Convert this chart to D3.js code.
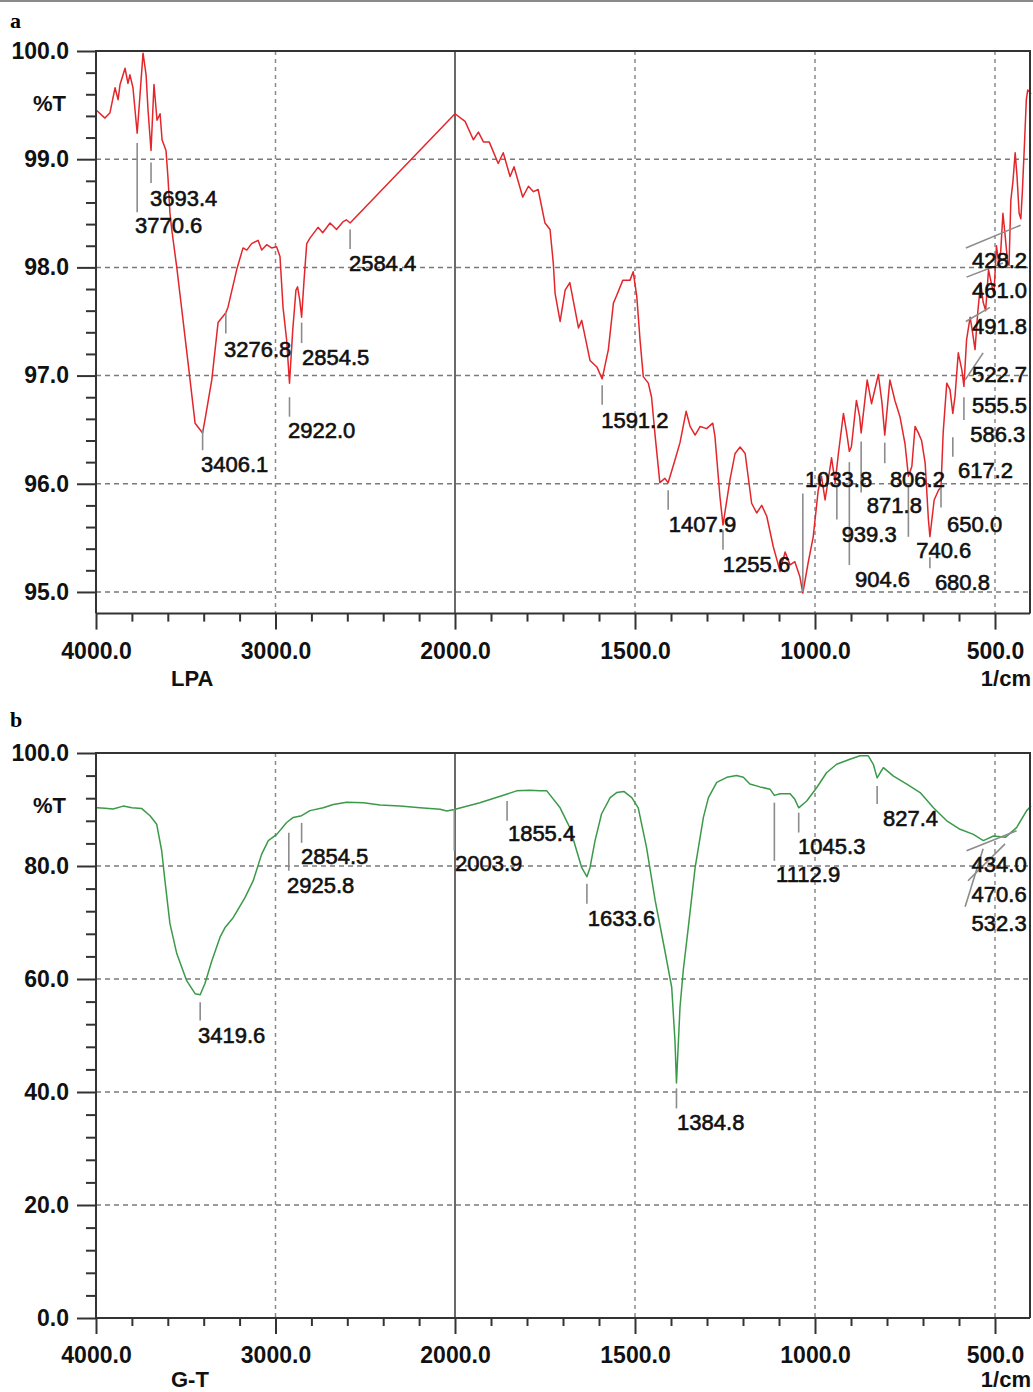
<!DOCTYPE html>
<html>
<head>
<meta charset="utf-8">
<script src="https://cdn.jsdelivr.net/npm/d3@7"></script>
<style>
  body { margin: 0; background: #fff; }
  svg { display: block; }
</style>
</head>
<body>
<script>
// LPA spectrum: [wavenumber (1/cm), %T]
const lpaSpectrum = [
  [4000, 99.45], [3996, 99.45], [3950, 99.38], [3922, 99.43], [3894, 99.66], [3877, 99.55], [3866, 99.69],
  [3838, 99.84], [3822, 99.70], [3811, 99.78], [3794, 99.66], [3770.6, 99.24], [3755, 99.59], [3738, 99.98],
  [3721, 99.78], [3710, 99.45], [3693.4, 99.08], [3677, 99.69], [3660, 99.36], [3643, 99.42], [3632, 99.18],
  [3610, 99.08], [3599, 98.83], [3588, 98.50], [3578, 98.35], [3550, 98.0], [3515, 97.51], [3476, 96.96],
  [3448, 96.56], [3406.1, 96.47], [3393, 96.59], [3355, 96.96], [3320, 97.49], [3276.8, 97.58], [3265, 97.63],
  [3216, 97.98], [3181, 98.18], [3160, 98.16], [3133, 98.22], [3097, 98.25], [3077, 98.16], [3049, 98.21],
  [3022, 98.18], [2994, 98.19], [2975, 98.10], [2958, 97.63], [2938, 97.33], [2922, 96.93], [2904, 97.42],
  [2886, 97.79], [2877, 97.82], [2865, 97.70], [2854.5, 97.54], [2841, 97.88], [2826, 98.22], [2808, 98.27],
  [2763, 98.37], [2737, 98.32], [2696, 98.41], [2660, 98.35], [2625, 98.42], [2605, 98.44], [2584.4, 98.41],
  [2000, 99.42], [1972, 99.35], [1949, 99.18], [1935, 99.25], [1921, 99.16], [1905, 99.16], [1880, 98.96],
  [1866, 99.06], [1847, 98.84], [1836, 98.93], [1812, 98.65], [1796, 98.75], [1782, 98.70], [1769, 98.72],
  [1750, 98.41], [1736, 98.35], [1727, 98.04], [1722, 97.76], [1708, 97.50], [1694, 97.79], [1681, 97.86],
  [1657, 97.44], [1648, 97.51], [1625, 97.14], [1606, 97.08], [1591.2, 96.97], [1574, 97.24], [1560, 97.67],
  [1551, 97.74], [1534, 97.88], [1514, 97.88], [1505, 97.96], [1495, 97.73], [1486, 97.33], [1477, 96.99],
  [1463, 96.93], [1454, 96.80], [1444, 96.44], [1431, 96.01], [1417, 96.05], [1407.9, 96.01], [1389, 96.22],
  [1375, 96.38], [1358, 96.67], [1347, 96.53], [1333, 96.45], [1319, 96.53], [1301, 96.51], [1284, 96.56],
  [1278, 96.44], [1264, 95.88], [1255.6, 95.62], [1236, 96.04], [1222, 96.28], [1208, 96.34], [1194, 96.28],
  [1176, 95.82], [1162, 95.73], [1148, 95.80], [1134, 95.70], [1116, 95.42], [1097, 95.19], [1083, 95.37],
  [1069, 95.25], [1056, 95.28], [1042, 95.14], [1033.8, 94.99], [1019, 95.27], [1005, 95.51], [991, 95.94],
  [982, 96.07], [972, 95.85], [954, 96.24], [944, 96.01], [935, 96.28], [921, 96.65], [912, 96.47],
  [904.6, 96.30], [899, 96.34], [885, 96.77], [876, 96.62], [871.8, 96.47], [855, 96.96], [843, 96.74],
  [824, 97.01], [814, 96.75], [806.2, 96.45], [792, 96.96], [778, 96.77], [764, 96.62], [750, 96.37],
  [740.6, 96.07], [731, 96.16], [722, 96.53], [713, 96.47], [704, 96.40], [694, 96.19], [685, 95.67],
  [680.8, 95.51], [669, 95.85], [657, 95.94], [650, 95.97], [644, 96.47], [634, 96.93], [625, 96.87],
  [617.2, 96.65], [611, 96.81], [602, 97.21], [592, 97.05], [586.3, 96.90], [579, 97.33], [569, 97.54],
  [562, 97.39], [555.5, 97.24], [548, 97.58], [540, 97.86], [533, 97.68], [526, 97.60], [518, 97.98],
  [510, 97.85], [503, 97.75], [496, 98.20], [490, 98.05], [484, 98.15], [478, 98.50], [472, 98.30],
  [465, 98.05], [461, 98.02], [456, 98.62], [450, 98.80], [444, 99.06], [439, 98.85], [433, 98.50],
  [428.2, 98.45], [424, 98.70], [418, 99.15], [413, 99.55], [409, 99.64], [404, 99.62], [400, 99.60]
];

// G-T spectrum: [wavenumber (1/cm), %T]
const gtSpectrum = [
  [4000, 90.3], [3996, 90.33], [3950, 90.2], [3905, 90.1], [3848, 90.6], [3800, 90.3], [3745, 90.16],
  [3699, 88.9], [3662, 87.4], [3634, 82.7], [3616, 77.4], [3588, 69.8], [3550, 64.5], [3495, 59.7],
  [3448, 57.4], [3419.6, 57.2], [3393, 59.2], [3355, 63.2], [3309, 67.4], [3281, 69.1], [3235, 70.9],
  [3170, 74.4], [3124, 77.4], [3077, 82.1], [3040, 84.5], [2993, 85.6], [2938, 87.7], [2901, 88.6],
  [2854.5, 88.9], [2808, 89.8], [2734, 90.3], [2678, 90.9], [2603, 91.3], [2510, 91.2], [2418, 90.8],
  [2306, 90.6], [2195, 90.3], [2083, 90.05], [2046, 89.75], [2003.9, 90.0], [1931, 91.2], [1857, 92.7],
  [1829, 93.3], [1792, 93.4], [1764, 93.3], [1745, 93.3], [1708, 90.3], [1681, 86.8], [1662, 82.7],
  [1648, 79.7], [1633.6, 78.1], [1625, 79.7], [1611, 84.5], [1593, 89.2], [1569, 92.1], [1551, 93.0],
  [1531, 93.2], [1509, 92.1], [1491, 90.3], [1468, 83.3], [1444, 73.9], [1417, 65.0], [1398, 58.5],
  [1389, 49.1], [1384.8, 41.6], [1375, 55.0], [1366, 61.5], [1352, 69.1], [1333, 79.7], [1310, 88.6],
  [1296, 92.1], [1273, 94.8], [1245, 95.7], [1218, 96.0], [1199, 95.7], [1181, 94.5], [1153, 94.0],
  [1125, 93.6], [1112.9, 92.5], [1097, 92.8], [1069, 92.8], [1056, 91.8], [1045.3, 90.3], [1023, 91.5],
  [995, 93.9], [968, 96.5], [940, 98.0], [903, 98.9], [875, 99.5], [852, 99.5], [838, 98.0],
  [827.4, 95.6], [819, 96.5], [810, 97.4], [782, 95.9], [745, 94.5], [708, 93.0], [671, 90.3],
  [634, 88.0], [597, 86.5], [560, 85.6], [532.3, 84.5], [504, 85.3], [470.6, 85.1], [440, 86.8],
  [412, 89.8], [400, 90.6]
];

// peak marks: [label, tick x1 (1/cm), tick y1 (%T), tick x2, tick y2, label x (1/cm), label baseline (%T)]
const lpaPeaks = [
  ['3770.6', 3770.6, 99.15, 3770.6, 98.51, 3783, 98.32],
  ['3693.4', 3693.4, 98.97, 3693.4, 98.78, 3699, 98.57],
  ['3406.1', 3406.1, 96.50, 3406.1, 96.31, 3415, 96.11],
  ['3276.8', 3276.8, 97.59, 3276.8, 97.39, 3287, 97.17],
  ['2922.0', 2922.0, 96.80, 2922.0, 96.62, 2930, 96.42],
  ['2854.5', 2854.5, 97.49, 2854.5, 97.30, 2852, 97.10],
  ['2584.4', 2584.4, 98.35, 2584.4, 98.17, 2591, 97.97],
  ['1591.2', 1591.2, 96.91, 1591.2, 96.73, 1594, 96.52],
  ['1407.9', 1407.9, 95.94, 1407.9, 95.76, 1406, 95.55],
  ['1255.6', 1255.6, 95.57, 1255.6, 95.39, 1256, 95.18],
  ['1033.8', 1033.8, 95.91, 1033.8, 95.00, 1028, 95.97],
  ['939.3', 939.3, 95.97, 939.3, 95.67, 926, 95.46],
  ['904.6', 904.6, 96.20, 904.6, 95.25, 889, 95.05],
  ['871.8', 871.8, 96.39, 871.8, 95.92, 856, 95.73],
  ['806.2', 806.2, 96.38, 806.2, 96.19, 792, 95.97],
  ['740.6', 740.6, 95.97, 740.6, 95.51, 719, 95.31],
  ['680.8', 680.8, 95.32, 680.8, 95.22, 667, 95.02],
  ['650.0', 650.0, 95.97, 650.0, 95.78, 633, 95.55],
  ['617.2', 617.2, 96.43, 617.2, 96.25, 603, 96.05],
  ['586.3', 586.3, 96.80, 586.3, 96.59, 569, 96.39],
  ['555.5', null, null, null, null, 564, 96.65],
  ['522.7', 583, 96.96, 533, 97.21, 564, 96.94],
  ['491.8', 581, 97.50, 514, 97.63, 564, 97.38],
  ['461.0', 579, 97.91, 478, 98.04, 564, 97.72],
  ['428.2', 581, 98.18, 429, 98.39, 564, 97.99]
];

const gtPeaks = [
  ['3419.6', 3419.6, 55.88, 3419.6, 52.65, 3432, 48.76],
  ['2925.8', 2925.8, 85.87, 2925.8, 79.15, 2936, 75.27],
  ['2854.5', 2854.5, 87.63, 2854.5, 84.10, 2858, 80.39],
  ['2003.9', 2003.9, 90.1, 2003.9, 82.7, 2000, 79.15],
  ['1855.4', 1855.4, 91.52, 1855.4, 87.99, 1853, 84.45],
  ['1633.6', 1633.6, 76.86, 1633.6, 73.32, 1631, 69.43],
  ['1384.8', 1384.8, 40.64, 1384.8, 37.10, 1383, 33.22],
  ['1112.9', 1112.9, 91.22, 1112.9, 80.92, 1108, 77.08],
  ['1045.3', 1045.3, 89.45, 1045.3, 85.92, 1047, 82.16],
  ['827.4', 827.4, 94.17, 827.4, 90.99, 811, 87.10],
  ['434.0', 579, 82.69, 440, 86.22, 565, 78.85],
  ['470.6', 575, 77.39, 472, 83.92, 565, 73.55],
  ['532.3', 583, 72.79, 533, 83.04, 565, 68.55]
];

const xMajor = [4000, 3000, 2000, 1500, 1000, 500];
const xGrid = [3000, 1500, 1000, 500];
const xMinor = d3.range(3800, 2000, -200).concat(d3.range(1900, 400, -100)).filter((d) => !xMajor.includes(d));
const lpaYMajor = [100, 99, 98, 97, 96, 95];
const lpaYMinor = d3.range(99.8, 95.1, -0.2).map((d) => Math.round(d * 10) / 10).filter((d) => d % 1 !== 0);
const gtYMajor = [100, 80, 60, 40, 20, 0];
const gtYMinor = d3.range(96, 0, -4).filter((d) => d % 20 !== 0);

const W = 1033;
const H = 1392;
const FONT = '"Liberation Sans", Arial, sans-serif';
const left = 96;
const right = 1030;

const svg = d3.select('body').append('svg').attr('width', W).attr('height', H).attr('viewBox', `0 0 ${W} ${H}`);

// thin frame line along the figure top
svg.append('line').attr('x1', 0).attr('x2', W).attr('y1', 1).attr('y2', 1).attr('stroke', '#8a8a8a').attr('stroke-width', 2);

const x = d3.scaleLinear().domain([4000, 2000, 400]).range([left, 455, 1031]);
const fmt = d3.format('.1f');

function drawPanel(p) {
  const y = d3.scaleLinear().domain(p.yDomain).range(p.yRange);
  const top = p.yRange[1];
  const bottom = p.yRange[0];
  const g = svg.append('g');

  // grid
  g.append('g')
    .selectAll('line')
    .data(p.yMajor.filter((d) => d !== p.yDomain[1] && d !== p.yDomain[0]))
    .join('line')
    .attr('x1', left).attr('x2', right)
    .attr('y1', (d) => y(d)).attr('y2', (d) => y(d))
    .attr('stroke', '#7a7a7a').attr('stroke-width', 1.5).attr('stroke-dasharray', '5,4');
  g.append('g')
    .selectAll('line')
    .data(xGrid)
    .join('line')
    .attr('x1', (d) => x(d)).attr('x2', (d) => x(d))
    .attr('y1', top).attr('y2', bottom)
    .attr('stroke', '#8a8a8a').attr('stroke-width', 1.5).attr('stroke-dasharray', '4,4');
  g.append('line')
    .attr('x1', x(2000)).attr('x2', x(2000)).attr('y1', top).attr('y2', bottom)
    .attr('stroke', '#444').attr('stroke-width', 1.6);

  // spectrum
  const line = d3.line().x((d) => x(d[0])).y((d) => y(d[1]));
  g.append('path').datum(p.spectrum).attr('d', line)
    .attr('fill', 'none').attr('stroke', p.color).attr('stroke-width', 1.5).attr('stroke-linejoin', 'round');

  // peak marks
  const marks = g.append('g');
  marks.selectAll('line')
    .data(p.peaks.filter((d) => d[1] !== null))
    .join('line')
    .attr('x1', (d) => x(d[1])).attr('y1', (d) => y(d[2]))
    .attr('x2', (d) => x(d[3])).attr('y2', (d) => y(d[4]))
    .attr('stroke', '#8c8c8c').attr('stroke-width', 1.6);
  marks.selectAll('text')
    .data(p.peaks)
    .join('text')
    .attr('x', (d) => x(d[5])).attr('y', (d) => y(d[6]))
    .attr('font-family', FONT).attr('font-size', 22).attr('fill', '#111')
    .attr('stroke', '#111').attr('stroke-width', 0.6)
    .text((d) => d[0]);

  // frame
  g.append('path')
    .attr('d', `M${left},${bottom}V${top}H${right}V${bottom}`)
    .attr('fill', 'none').attr('stroke', '#333').attr('stroke-width', 2);

  // axes
  const styleAxis = (sel) => {
    sel.select('.domain').remove();
    sel.selectAll('.tick line').attr('stroke', '#333').attr('stroke-width', 2);
    sel.selectAll('.tick text').attr('font-family', FONT).attr('font-size', 23).attr('font-weight', 'bold').attr('fill', '#111');
  };
  g.append('g').attr('transform', `translate(0,${bottom})`)
    .call(d3.axisBottom(x).tickValues(xMajor).tickSize(16).tickPadding(13).tickFormat(fmt)).call(styleAxis);
  g.append('g').attr('transform', `translate(0,${bottom})`)
    .call(d3.axisBottom(x).tickValues(xMinor).tickSize(8).tickFormat('')).call(styleAxis);
  g.append('line').attr('x1', left).attr('x2', right).attr('y1', bottom).attr('y2', bottom)
    .attr('stroke', '#333').attr('stroke-width', 2);
  g.append('g').attr('transform', `translate(${left},0)`)
    .call(d3.axisLeft(y).tickValues(p.yMajor).tickSize(19).tickPadding(8).tickFormat(fmt)).call(styleAxis);
  g.append('g').attr('transform', `translate(${left},0)`)
    .call(d3.axisLeft(y).tickValues(p.yMinor).tickSize(10).tickFormat('')).call(styleAxis);

  // labels
  const label = (txt, lx, ly, anchor) =>
    g.append('text').attr('x', lx).attr('y', ly).attr('text-anchor', anchor)
      .attr('font-family', FONT).attr('font-size', 22).attr('font-weight', 'bold').attr('fill', '#111').text(txt);
  label('%T', 66, top + 60, 'end');
  label(p.sample, 171, bottom + p.nameGap, 'start');
  label('1/cm', right + 1, bottom + p.nameGap, 'end');
  svg.append('text').attr('x', 10).attr('y', p.letterY)
    .attr('font-family', '"Liberation Serif", "Times New Roman", serif').attr('font-size', 22).attr('font-weight', 'bold')
    .text(p.letter);
}

drawPanel({
  spectrum: lpaSpectrum, peaks: lpaPeaks, color: '#e3262b',
  yDomain: [94.8, 100], yRange: [613.6, 51], yMajor: lpaYMajor, yMinor: lpaYMinor,
  sample: 'LPA', letter: 'a', letterY: 28, nameGap: 72
});
drawPanel({
  spectrum: gtSpectrum, peaks: gtPeaks, color: '#3b9a4a',
  yDomain: [0, 100], yRange: [1318, 753], yMajor: gtYMajor, yMinor: gtYMinor,
  sample: 'G-T', letter: 'b', letterY: 727, nameGap: 69
});
</script>
</body>
</html>
